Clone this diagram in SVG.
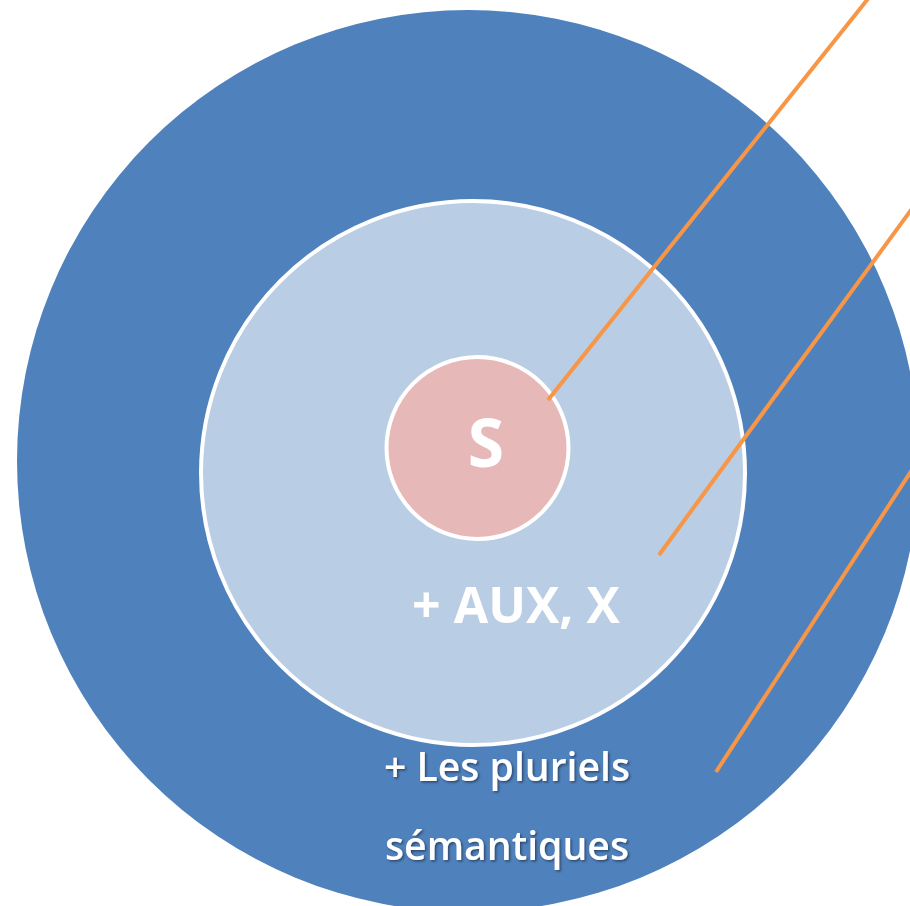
<svg xmlns="http://www.w3.org/2000/svg" width="910" height="906" viewBox="0 0 910 906">
<style>
.lbl{fill:#FFFFFF;font-family:"Open Sans","Noto Sans","Liberation Sans",sans-serif;text-anchor:middle}
.conn{stroke:#F79646;stroke-width:4;fill:none}
</style>
<defs>
<filter id="sh" x="-10%" y="-20%" width="120%" height="140%">
<feDropShadow dx="1.5" dy="1.5" stdDeviation="1.2" flood-color="#000000" flood-opacity="0.45"/>
</filter>
</defs>
<rect width="910" height="906" fill="#FFFFFF"/>
<g id="outer">
<circle cx="468" cy="461" r="451" fill="#4F81BD"/>
</g>
<g id="middle">
<circle cx="473" cy="473" r="272" fill="#B9CDE5" stroke="#FFFFFF" stroke-width="4"/>
</g>
<g id="core">
<circle cx="477.5" cy="448" r="91" fill="#E6B9B8" stroke="#FFFFFF" stroke-width="4"/>
<text class="lbl" x="486" y="467" font-size="66" font-weight="bold">S</text>
</g>
<g id="connectors">
<line class="conn" x1="548" y1="400" x2="875" y2="-10"/>
<line class="conn" x1="659" y1="555" x2="930" y2="184"/>
<line class="conn" x1="716" y1="772" x2="930" y2="442"/>
</g>
<g id="labels">
<text class="lbl" x="516" y="623" font-size="50" font-weight="bold">+ AUX, X</text>
<text class="lbl" x="507" y="781" font-size="39" font-weight="600" filter="url(#sh)" textLength="246" lengthAdjust="spacingAndGlyphs">+ Les pluriels</text>
<text class="lbl" x="507" y="860" font-size="39" font-weight="600" filter="url(#sh)" textLength="244" lengthAdjust="spacingAndGlyphs">sémantiques</text>
</g>
</svg>
